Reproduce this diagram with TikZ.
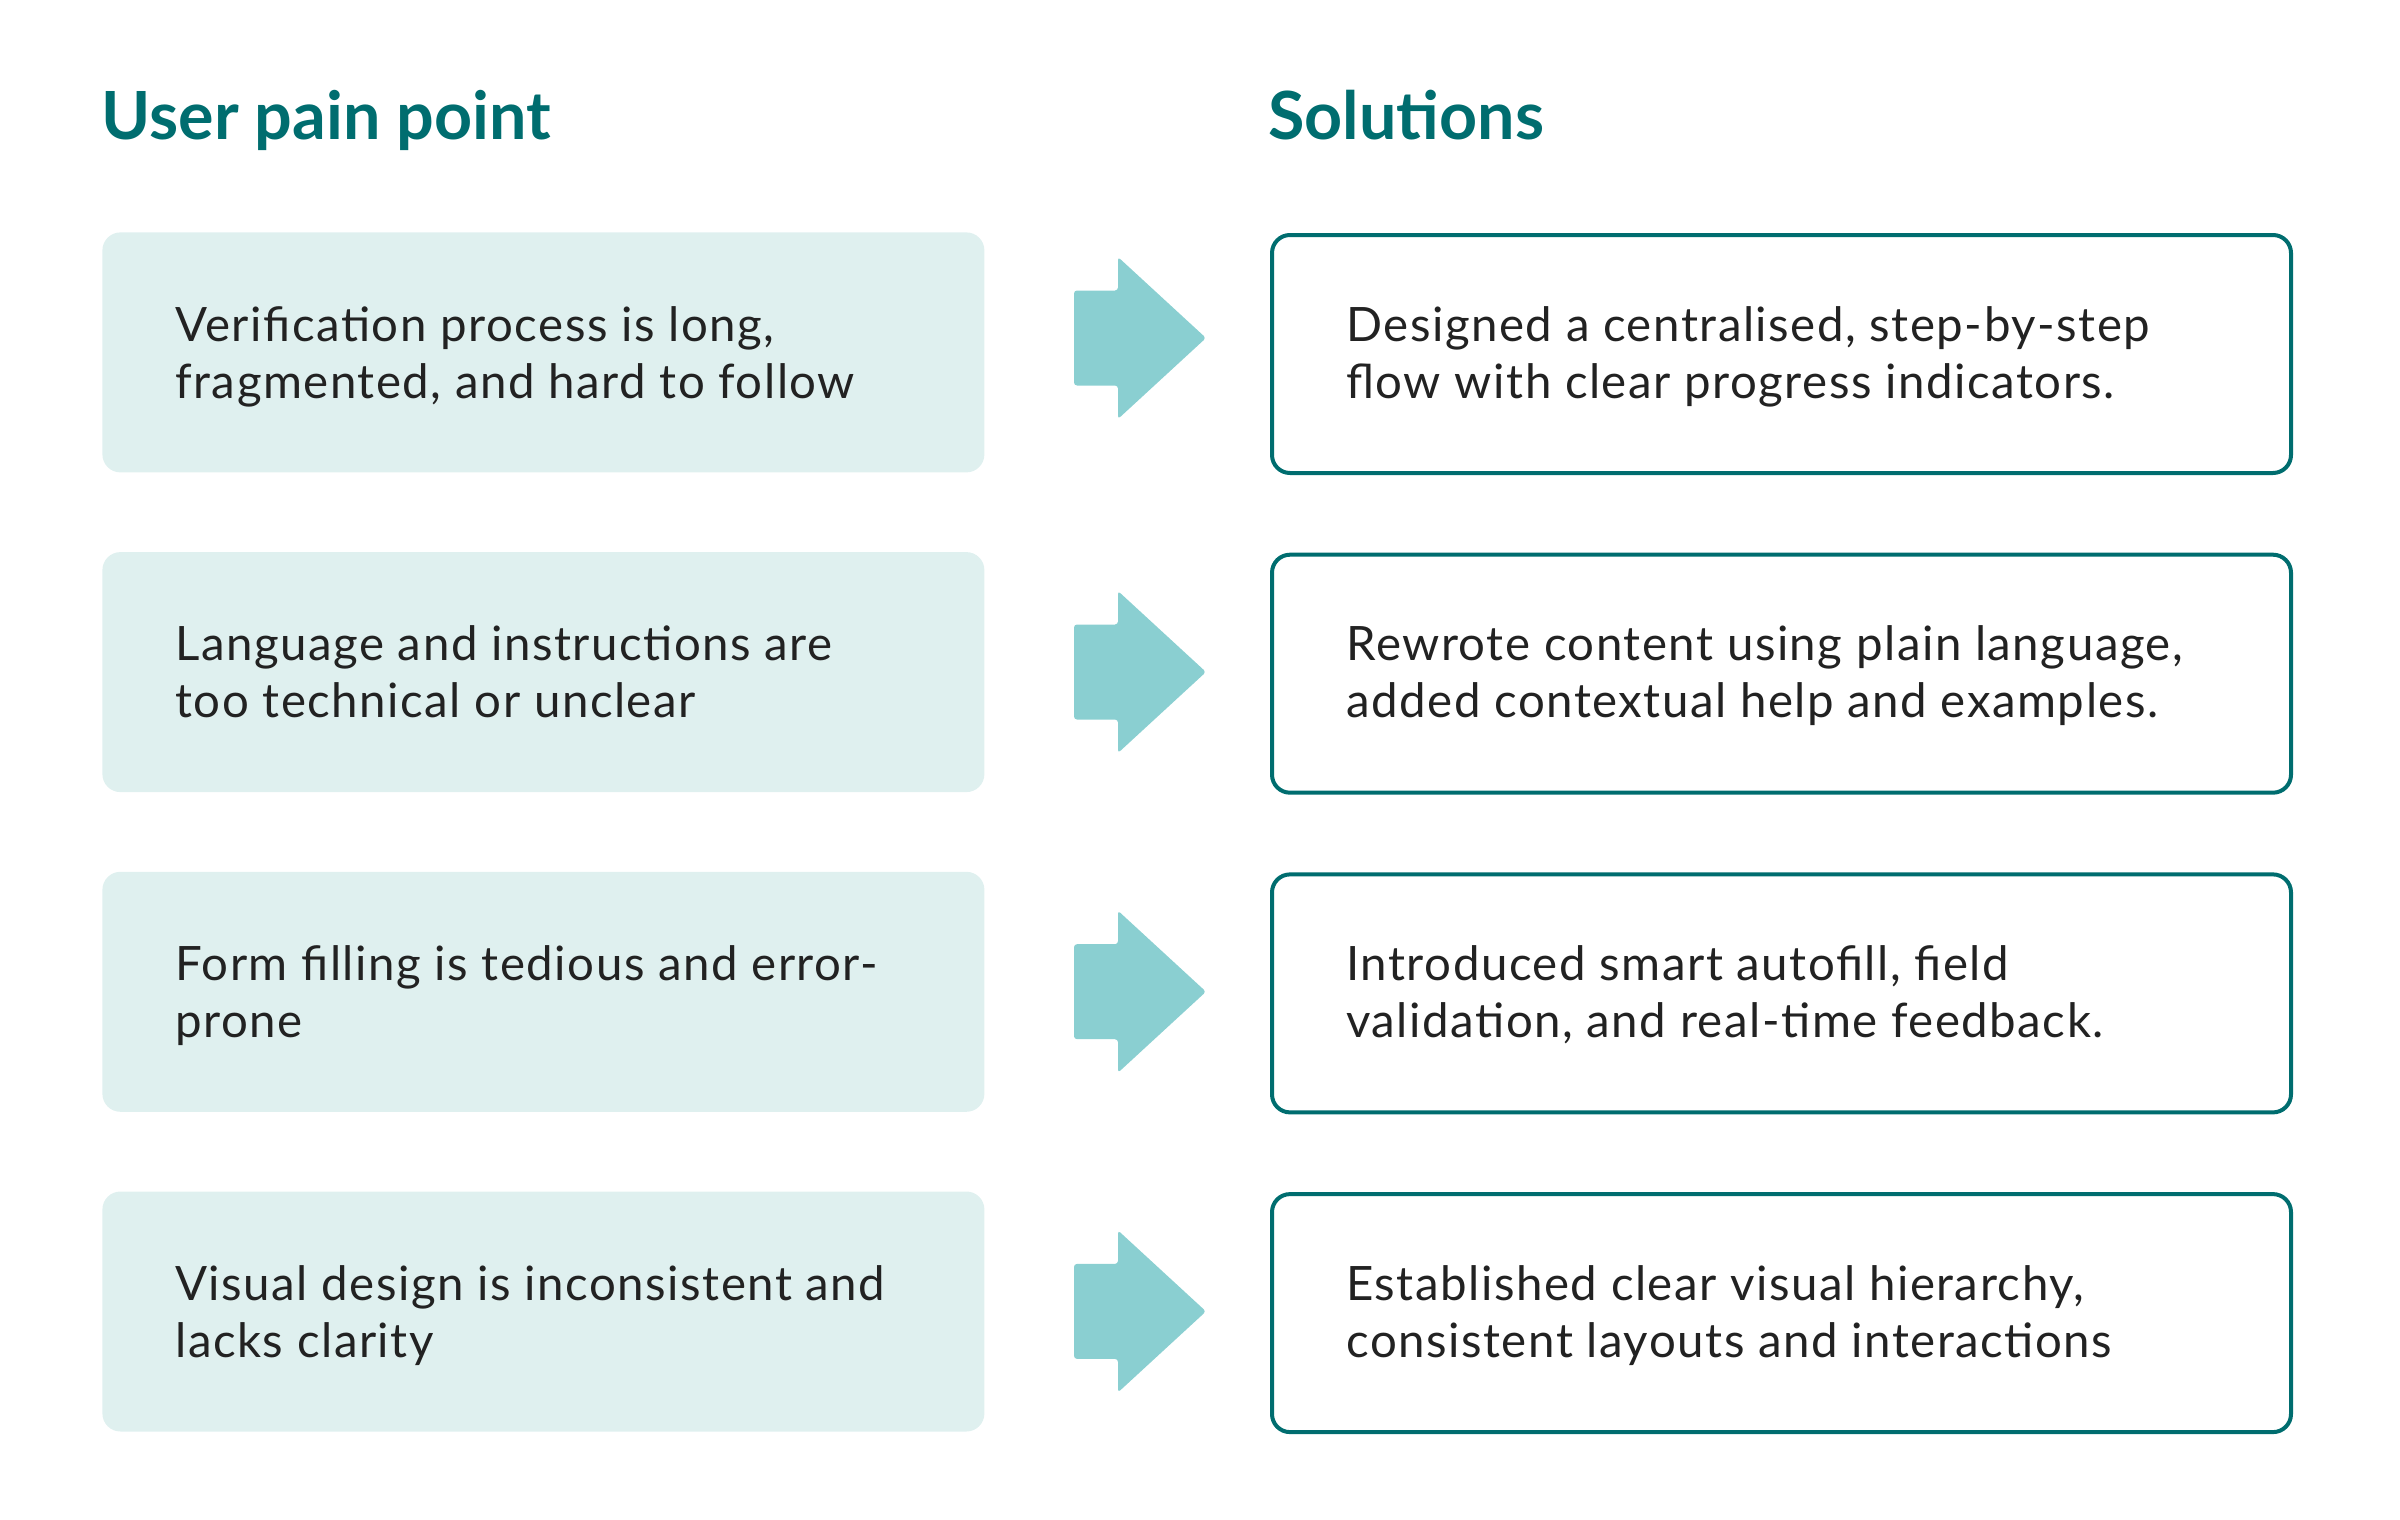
\documentclass[tikz,border=0pt]{standalone}
\usepackage{fontspec}
\setmainfont{Lato}
\newfontfamily\bodyfont{Lato}[LetterSpace=3.2]
\definecolor{teal}{HTML}{006D6F}
\definecolor{arrowc}{HTML}{8ACFD1}
\definecolor{painfill}{HTML}{DFF0EF}
\definecolor{ink}{HTML}{222222}
\tikzset{
  heading/.style={anchor=base west, inner sep=0pt, text=teal, font=\fontsize{33.2}{38}\selectfont\bfseries},
  painbox/.style={anchor=north west, fill=painfill, draw=none, rounded corners=9pt, minimum width=441pt, minimum height=120pt, inner sep=0pt},
  solbox/.style={anchor=north west, fill=white, draw=teal, line width=2pt, rounded corners=9pt, minimum width=509.5pt, minimum height=119pt, inner sep=0pt},
  bodytext/.style={anchor=base west, inner sep=0pt, align=left, text=ink, font=\bodyfont\fontsize{23.7}{28.5}\selectfont},
  bigarrow/.style={fill=arrowc, rounded corners=1.5pt}
}
\newcommand{\fatarrow}[1]{%
  \fill[bigarrow] (1074,#1-47.5) -- (1118,#1-47.5) -- (1118,#1-81) -- (1206,#1) -- (1118,#1+81) -- (1118,#1+47.5) -- (1074,#1+47.5) -- cycle;}
\begin{document}
\begin{tikzpicture}[x=0.5pt,y=-0.5pt]
\useasboundingbox (0,0) rectangle (2400,1520);
\node[heading] (h1) at (101,140) {User pain point};
\node[heading] (h2) at (1268,140) {Solutions};
% rows
\node[painbox] (p1) at (102,232) {};
\node[painbox] (p2) at (102,551.7) {};
\node[painbox] (p3) at (102,871.4) {};
\node[painbox] (p4) at (102,1191.1) {};
\node[solbox] (s1) at (1270,233) {};
\node[solbox] (s2) at (1270,552.7) {};
\node[solbox] (s3) at (1270,872.4) {};
\node[solbox] (s4) at (1270,1192.1) {};
\fatarrow{338}
\fatarrow{672}
\fatarrow{991.7}
\fatarrow{1311.4}
% anchor base west = baseline of the last line
\node[bodytext] (pt1) at (175,398) {Verification process is long,\\fragmented, and hard to follow};
\node[bodytext] (pt2) at (175,717.7) {Language and instructions are\\too technical or unclear};
\node[bodytext] (pt3) at (175,1037.4) {Form filling is tedious and error-\\prone};
\node[bodytext] (pt4) at (175,1357.1) {Visual design is inconsistent and\\lacks clarity};
\node[bodytext] (st1) at (1346,398) {Designed a centralised, step-by-step\\flow with clear progress indicators.};
\node[bodytext] (st2) at (1346,717.7) {Rewrote content using plain language,\\added contextual help and examples.};
\node[bodytext] (st3) at (1346,1037.4) {Introduced smart autofill, field\\validation, and real-time feedback.};
\node[bodytext] (st4) at (1346,1357.1) {Established clear visual hierarchy,\\consistent layouts and interactions};
\end{tikzpicture}
\end{document}
